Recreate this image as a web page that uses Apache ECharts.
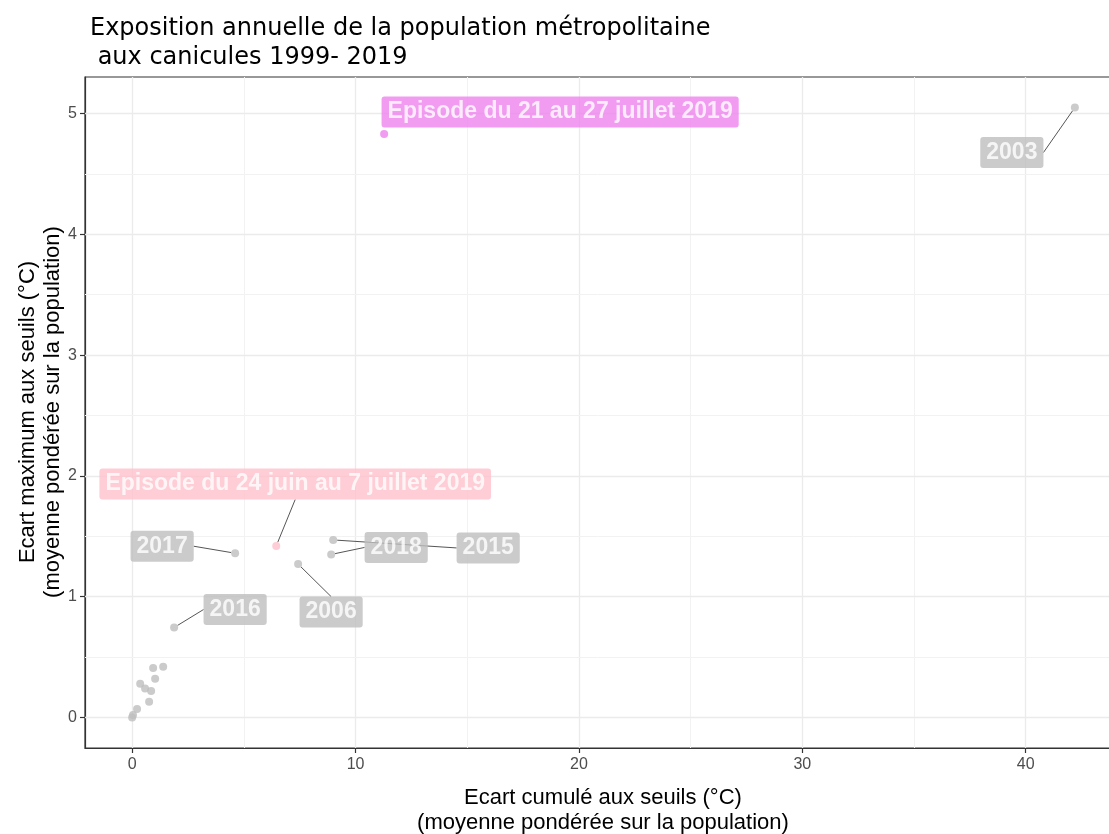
<!DOCTYPE html>
<html>
<head>
<meta charset="utf-8">
<script src="https://cdn.jsdelivr.net/npm/echarts@6/dist/echarts.min.js"></script>
<style>
html,body{margin:0;padding:0;background:#fff;overflow:hidden;}
#chart{width:1109px;height:834px;}
</style>
</head>
<body>
<div id="chart"></div>
<script>
// ---- Data ----
const pointLabels = ['2003', 'Episode du 21 au 27 juillet 2019', 'Episode du 24 juin au 7 juillet 2019',
  '2017', '2006', '2015', '2018', '2016',
  '', '', '', '', '', '', '', '', '', ''];
const pointGroups = ['annee', 'juillet', 'juin',
  'annee', 'annee', 'annee', 'annee', 'annee',
  'annee', 'annee', 'annee', 'annee', 'annee', 'annee', 'annee', 'annee', 'annee', 'annee'];
const ecartCumule = [42.2, 11.28, 6.45,
  4.61, 7.43, 9.0, 8.91, 1.88,
  0.94, 1.39, 1.03, 0.36, 0.58, 0.85, 0.76, 0.22, 0.04, 0.0];
const ecartMaximum = [5.05, 4.83, 1.42,
  1.36, 1.27, 1.47, 1.35, 0.745,
  0.41, 0.42, 0.32, 0.28, 0.24, 0.22, 0.13, 0.07, 0.02, 0.0];

const xTicks = [0, 10, 20, 30, 40];
const xMinor = [5, 15, 25, 35];
const yTicks = [0, 1, 2, 3, 4, 5];
const yMinor = [0.5, 1.5, 2.5, 3.5, 4.5];

// ---- Styles / layout (not data) ----
const groupColor = { annee: '#BEBEBE', juillet: '#EE82EE', juin: '#FFC0CB' };
// label placement offsets in pixels (label centre minus point), like ggrepel's result
const labelOffset = {
  '2003': [-63, 45],
  'Episode du 21 au 27 juillet 2019': [176, -22],
  'Episode du 24 juin au 7 juillet 2019': [19, -62],
  '2017': [-73, -7],
  '2006': [33, 48],
  '2015': [155, 8],
  '2018': [65, -7],
  '2016': [61, -18]
};
const noSegment = { 'Episode du 21 au 27 juillet 2019': true };

const xMin = -2.11, xMax = 44.31;
const yMin = -0.2525, yMax = 5.3025;

const chart = echarts.init(document.getElementById('chart'), null, { renderer: 'canvas' });

const scatterData = ecartCumule.map((x, i) => ({
  value: [x, ecartMaximum[i]],
  name: pointLabels[i],
  itemStyle: { color: groupColor[pointGroups[i]] },
  label: pointLabels[i] ? {
    show: true,
    backgroundColor: groupColor[pointGroups[i]]
  } : { show: false },
  labelLine: { show: !!pointLabels[i] && !noSegment[pointLabels[i]] }
}));

const majorStyle = { color: '#EBEBEB', width: 1.3, type: 'solid' };
const minorStyle = { color: '#F2F2F2', width: 1, type: 'solid' };
const gridLineData = [
  ...xTicks.map(v => ({ xAxis: v, lineStyle: majorStyle })),
  ...xMinor.map(v => ({ xAxis: v, lineStyle: minorStyle })),
  ...yTicks.map(v => ({ yAxis: v, lineStyle: majorStyle })),
  ...yMinor.map(v => ({ yAxis: v, lineStyle: minorStyle }))
];

const axisCommon = {
  type: 'value',
  splitLine: { show: false },
  axisLine: { show: true, onZero: false, lineStyle: { color: '#333333', width: 1.2 } },
  axisTick: { show: true, length: 5, lineStyle: { color: '#333333', width: 1.2 } },
  axisLabel: { color: '#4D4D4D', fontSize: 16, fontFamily: 'Liberation Sans' }
};

chart.setOption({
  animation: false,
  backgroundColor: '#ffffff',
  title: {
    text: 'Exposition annuelle de la population métropolitaine\n aux canicules 1999- 2019',
    left: 85, top: 9,
    textStyle: { fontSize: 24, lineHeight: 29, fontWeight: 'normal', color: '#000000', fontFamily: 'DejaVu Sans' }
  },
  grid: {
    left: 85, top: 77, width: 1037, height: 671,
    outerBoundsMode: 'none',
    containLabel: false,
    show: true, borderColor: '#333333', borderWidth: 1.2, backgroundColor: '#ffffff'
  },
  xAxis: Object.assign({}, axisCommon, {
    min: xMin, max: xMax,
    axisTick: Object.assign({}, axisCommon.axisTick, { customValues: xTicks }),
    axisLabel: Object.assign({}, axisCommon.axisLabel, { customValues: xTicks, margin: 9 })
  }),
  yAxis: Object.assign({}, axisCommon, {
    min: yMin, max: yMax,
    axisTick: Object.assign({}, axisCommon.axisTick, { customValues: yTicks }),
    axisLabel: Object.assign({}, axisCommon.axisLabel, { customValues: yTicks, margin: 8 })
  }),
  graphic: [
    {
      type: 'text', z: 10,
      x: 603, y: 785,
      style: {
        text: 'Ecart cumulé aux seuils (°C)\n(moyenne pondérée sur la population)',
        fill: '#000000', font: '22px "Liberation Sans"', textAlign: 'center', lineHeight: 25
      }
    },
    {
      type: 'text', z: 10,
      x: 40, y: 412, rotation: Math.PI / 2,
      style: {
        text: 'Ecart maximum aux seuils (°C)\n(moyenne pondérée sur la population)',
        fill: '#000000', font: '22px "Liberation Sans"', textAlign: 'center', textVerticalAlign: 'middle', lineHeight: 25
      }
    }
  ],
  series: [
    {
      type: 'scatter',
      data: [],
      silent: true,
      markLine: {
        silent: true, symbol: ['none', 'none'], z: 1,
        label: { show: false },
        emphasis: { disabled: true },
        data: gridLineData
      },
      z: 1
    },
    {
      type: 'scatter',
      symbolSize: 8,
      z: 3,
      data: scatterData,
      label: {
        position: 'inside',
        formatter: p => p.name,
        color: '#ffffff',
        fontWeight: 'bold',
        fontSize: 23,
        fontFamily: 'Liberation Sans',
        padding: [5, 6, 3, 6],
        borderRadius: 3,
        align: 'center',
        verticalAlign: 'middle'
      },
      labelLine: {
        show: true,
        lineStyle: { color: '#555555', width: 1 }
      },
      labelLayout: function (params) {
        const name = pointLabels[params.dataIndex];
        const off = labelOffset[name];
        if (!off) return {};
        return { dx: off[0], dy: off[1] };
      },
      emphasis: { disabled: true }
    }
  ]
});
</script>
</body>
</html>
